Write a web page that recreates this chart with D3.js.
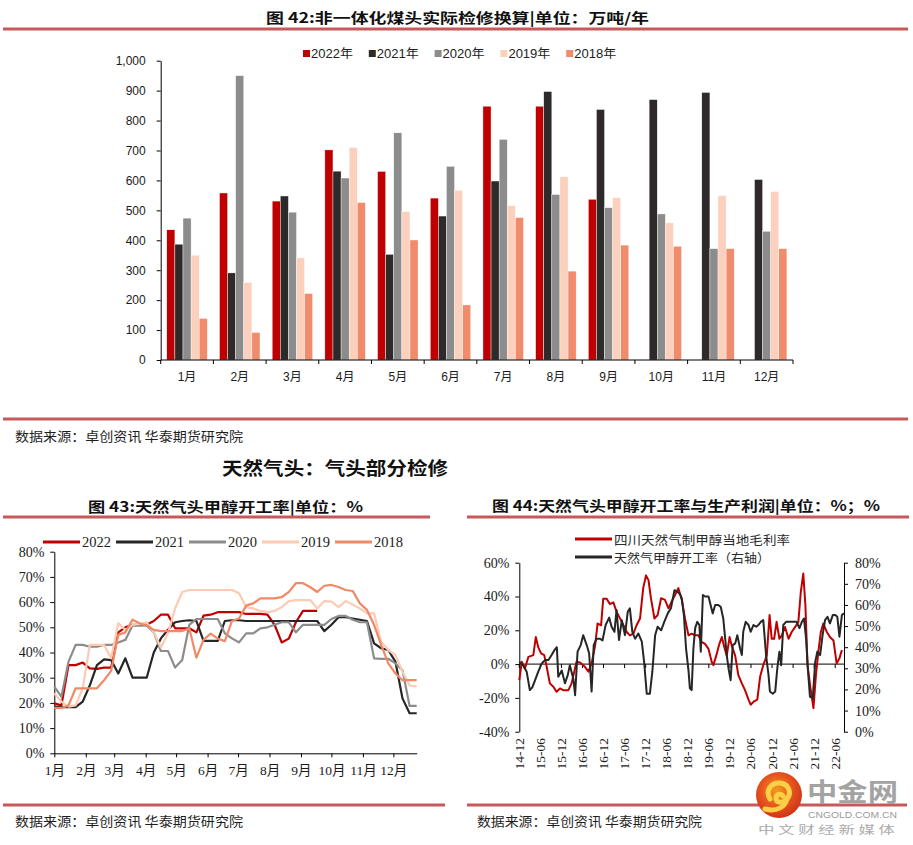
<!DOCTYPE html>
<html><head><meta charset="utf-8">
<script src="https://cdn.jsdelivr.net/npm/d3@7"></script>
<style>html,body{margin:0;padding:0;background:#fff;}svg{display:block;}</style>
</head><body>
<svg id="c" width="913" height="845"></svg>
<script>
// ================= DATA =================
// Fig 42 – bars (万吨/年)
const barMonths = ["1月","2月","3月","4月","5月","6月","7月","8月","9月","10月","11月","12月"];
const barSeries = ["2022年","2021年","2020年","2019年","2018年"];
const bar2022 = [435,558,531,702,630,541,848,848,537,null,null,null];
const bar2021 = [387,291,548,631,353,481,598,897,837,870,894,603];
const bar2020 = [474,950,494,608,759,647,737,553,509,488,372,430];
const bar2019 = [350,259,341,710,496,567,516,612,542,458,549,563];
const bar2018 = [139,92,222,526,401,184,476,297,384,380,372,372];
const barTicks = [0,100,200,300,400,500,600,700,800,900,1000];

// Fig 43 – weekly operating rate (%)
const rateMonths = ["1月","2月","3月","4月","5月","6月","7月","8月","9月","10月","11月","12月"];
const rateSeries = ["2022","2021","2020","2019","2018"];
const rate2022 = [19.8,19,35,35,36,33.7,33.5,34,34,48,50,51,51,51,52.5,55,55,49.6,49.6,49.6,48,54.6,55,56,56,56,56,55.3,55.3,55.3,55,51,44,45.5,52,56.5,56.5,56.5];
const rate2021 = [18.5,18.3,18.3,18.3,20.5,27,35,37.3,37,31.7,37.7,30,30,30,40,45.6,49,52,52.5,52.8,52.5,44.6,44.6,44.6,52.5,52.8,52.8,52.5,52.5,52.5,52.5,52.5,52.5,52.5,52.5,52.5,52.5,52.5,48.5,51,54,54,53.5,53,52.5,43.6,41.7,41,36.4,21.8,15.9,15.9];
const rate2020 = [26.5,22.5,36.4,43,43,42.3,42.3,43,43,44,45,50.7,50.7,50.7,48,40.6,40.6,34,37,51,53.3,53.3,53.3,53.3,47.6,45.6,44,47.6,47.6,49.6,50,51,52,52,48,51,51,51,51,53.3,54.5,54.5,53,52,52,37.7,37.5,37.5,35.7,33,18.8,18.8];
const rate2019 = [23.8,20.5,18.5,19,25.8,43,43,43,37.7,51.6,49,51,51.3,52,48,42,47.6,57.5,64,64.8,64.8,64.8,64.8,64.8,64.8,64.8,63.5,58,57.5,56.5,56,56.5,58,60.4,60.8,60.8,60.8,57.5,60.4,60.2,58,60.4,59,57.5,55.5,55.5,44.3,41,39,32.4,26.9,26.5];
const rate2018 = [18,18,19,25.8,25.8,25.8,25.8,29,32.7,47,48,53,51.6,50.7,49,48.5,48.5,48.5,48.5,49.5,38,45,47.5,45.5,44.5,52.5,53.5,58.6,59.5,61.5,61.5,61.5,62,64,67.5,67.5,66,64,66.5,66.8,66,64.8,64.4,59.5,56.9,51,43,35.7,31.7,29,29,29];
const rateTicks = [0,10,20,30,40,50,60,70,80];

// Fig 44 – margin (left axis) & operating rate (right axis); months since 2014-12
const profitTickLabels = ["14-12","15-06","15-12","16-06","16-12","17-06","17-12","18-06","18-12","19-06","19-12","20-06","20-12","21-06","21-12","22-06"];
const marginMonths = [0,0.7,1.6,2.6,4.0,4.7,5.4,6.2,7.1,7.8,8.7,9.7,10.6,11.6,12.5,14.0,14.9,16.3,17.3,18.7,19.7,20.6,21.6,22.3,23.3,23.9,24.9,25.8,26.8,27.7,29.2,30.6,31.5,32.5,33.4,34.4,35.3,36.1,36.8,37.5,38.5,39.4,40.4,41.5,42.5,43.4,44.4,45.3,46.3,47.2,48.2,49.1,50.1,51.0,52.0,52.9,53.9,54.8,55.3,56.1,57.0,57.7,58.4,59.1,59.9,60.5,61.5,62.4,63.4,64.3,65.3,65.9,66.9,67.8,68.6,69.5,70.5,71.3,71.9,72.6,73.3,74.1,74.8,75.7,76.7,77.6,78.6,79.5,80.2,80.9,81.5,82.1,82.8,83.8,84.5,85.2,85.9,86.6,87.6,88.5,89.5,90.4,91.2,91.9];
const marginValues = [-9.5,1.4,-2.6,4.3,5.3,16,10,6.3,5.3,-1.6,-11.4,-13.4,-16.4,-14.4,-15.4,-15.4,-11.4,1.4,1,-1.6,-4.5,0.4,11,24,23,38.6,38.6,35.5,36.5,31,25,19,17,18,23,27,45,52.5,49.7,39,27,29,39,38,33,37,41,45,38,27,17,18,17,17,13,12,9,1.4,-0.6,5,12,16,10,5,16,11,5,-6.5,-11.4,-15.4,-21,-24,-22,-21,-7.5,-0.6,5,29,15,15,25,15,17,22,15,19,22,25,42.8,53.6,35,-0.6,-12,-26,-6.5,7.3,19,24,19,16,14,0.4,3.4,8.3];
const opMonths = [0,1.1,2.1,3.0,3.7,4.5,5.4,6.4,7.3,8.3,9.2,10.0,10.7,11.1,12.1,13.0,13.8,14.4,15.4,15.9,16.6,17.5,18.2,19.2,19.9,20.6,21.2,22.0,23.0,23.7,24.6,25.6,26.3,27.1,27.7,28.4,29.2,30.1,30.9,31.5,32.2,33.0,33.9,34.9,35.6,36.3,37.2,37.9,38.7,39.4,40.4,41.3,42.3,43.2,44.2,45.1,45.8,46.3,46.9,47.5,48.2,48.6,49.1,49.6,50.1,50.7,51.3,51.7,52.3,52.9,53.9,54.5,55.1,55.8,56.7,57.4,58.1,58.6,59.1,59.6,60.2,60.8,61.5,62.1,62.9,63.4,63.8,64.5,65.3,65.9,66.7,67.5,68.1,68.8,69.5,70.3,71.0,71.4,72.2,72.9,73.5,74.1,74.6,75.2,76.0,77.1,78.1,79.0,79.8,80.5,81.1,81.7,82.2,82.8,83.6,84.3,84.9,85.7,86.4,87.1,87.8,88.5,89.3,90.0,90.6,91.2,91.9,92.5];
const opValues = [33,31.5,28.4,19.7,21,24.4,28.4,32.3,33.9,33.9,36.3,38.6,40,26,29,22.9,26.8,31.5,25,17.3,37.9,41,45.7,41,37,19,41,44,44,43.2,50.5,54,49.7,47.3,57.6,43.4,52.8,45.7,56.8,58.4,47.3,44,46.5,42.6,32.3,18,18,28.4,45.7,49.7,48,52,56,58.4,67,66.2,65,63,55,39.4,29,20.5,19.7,39.4,49,52,50.5,37.9,64.7,64,64,60,56,60,60,59,53.6,45,36.3,30,24.4,41,41.8,45.7,39.4,36.3,47.3,52,50.5,47.3,50.5,49.7,50.5,52,52.8,36.3,26.8,19,18,19,30,37.9,31.5,50.5,52,52,52,52,49,52,53.6,44,30,16.6,15.8,33,37.9,36.3,45.7,52.8,54.4,51.3,55.2,55.2,54.4,45,55.2,56];
const leftTicks = [-40,-20,0,20,40,60];
const rightTicks = [0,10,20,30,40,50,60,70,80];

// ================= DRAW =================
const svg = d3.select("#c");
svg.append("rect").attr("width",913).attr("height",845).attr("fill","#fff");
const CJK = "'Noto Sans CJK SC','Noto Sans',sans-serif";
const SANS = "'Liberation Sans','Noto Sans CJK SC',sans-serif";
const SERIF = "'Liberation Serif','Noto Sans CJK SC',serif";
const RULE = "#C65A5A";

function rule(x1,x2,y){
  svg.append("line").attr("x1",x1).attr("x2",x2).attr("y1",y).attr("y2",y)
    .attr("stroke",RULE).attr("stroke-width",3);
}
function label(x,y,s,o){
  const t = svg.append("text").attr("x",x).attr("y",y).text(s)
    .attr("font-family",o.family||CJK).attr("font-size",o.size||12)
    .attr("font-weight",o.weight||"normal").attr("fill",o.fill||"#1a1a1a")
    .attr("dominant-baseline","central").attr("text-anchor",o.anchor||"start");
  if(o.len){ t.attr("textLength",o.len).attr("lengthAdjust","spacingAndGlyphs"); }
  return t;
}
function styleAxis(g, family, size){
  g.select(".domain").attr("stroke","#000").attr("stroke-width",1);
  g.selectAll(".tick line").attr("stroke","#000");
  g.selectAll(".tick text").attr("font-family",family).attr("font-size",size).attr("fill","#1a1a1a");
}

// ---------- Figure 42 ----------
label(266,17,"图 42:非一体化煤头实际检修换算|单位：万吨/年",{weight:"bold",size:14,len:383,fill:"#111"});
rule(3,908,29);

const barColors = ["#C00000","#2E2A2A","#8C8C8C","#FBD0BC","#F08C6B"];
const barData = [bar2022,bar2021,bar2020,bar2019,bar2018];
const yB = d3.scaleLinear().domain([0,1000]).range([360,60.7]);
const x0 = d3.scaleBand().domain(barMonths).range([160.7,793]);
const x1 = d3.scaleBand().domain(barSeries).range([6.1,46.6]);

// legend
barSeries.forEach((s,i)=>{
  const lx = 303 + i*65.8;
  svg.append("rect").attr("x",lx).attr("y",50).attr("width",7).attr("height",7).attr("fill",barColors[i]);
  label(lx+8,53.5,s,{family:SANS,size:12,len:42,fill:"#222"});
});

barSeries.forEach((s,si)=>{
  const rows = barMonths.map((m,i)=>({m:m,v:barData[si][i]})).filter(d=>d.v!=null);
  svg.append("g").selectAll("rect").data(rows).join("rect")
    .attr("x",d=>x0(d.m)+x1(s)).attr("width",x1.bandwidth())
    .attr("y",d=>yB(d.v)).attr("height",d=>yB(0)-yB(d.v))
    .attr("fill",barColors[si]).attr("stroke","#fff").attr("stroke-width",0.4);
});
const gyB = svg.append("g").attr("transform","translate(160.7,0)")
  .call(d3.axisLeft(yB).tickValues(barTicks).tickSize(4).tickSizeOuter(0).tickPadding(11).tickFormat(d3.format(",")));
styleAxis(gyB,SANS,12);
// x axis of bars
const gxB = svg.append("g");
gxB.append("line").attr("x1",x0.range()[0]).attr("x2",x0.range()[1]).attr("y1",yB(0)).attr("y2",yB(0)).attr("stroke","#000");
const bounds = barMonths.map(m=>x0(m)).concat([x0.range()[1]]);
gxB.selectAll("line.t").data(bounds).join("line").attr("class","t")
  .attr("x1",d=>d).attr("x2",d=>d).attr("y1",yB(0)).attr("y2",yB(0)+4).attr("stroke","#000");
gxB.selectAll("text").data(barMonths).join("text")
  .attr("x",d=>x0(d)+x0.bandwidth()/2).attr("y",377).text(d=>d)
  .attr("text-anchor","middle").attr("dominant-baseline","central")
  .attr("font-family",SANS).attr("font-size",12).attr("fill","#1a1a1a");

rule(3,908,419);
label(15,435,"数据来源：卓创资讯  华泰期货研究院",{size:13,len:228,fill:"#1e1e1e"});
label(222,467,"天然气头：气头部分检修",{size:18,weight:"bold",len:226,fill:"#111"});

// ---------- Figure 43 ----------
label(88,505.5,"图 43:天然气头甲醇开工率|单位：%",{weight:"bold",size:14,len:275,fill:"#111"});
rule(3,430,517);

const rateColors = ["#C00000","#262626","#8C8C8C","#FBCBB3","#F08A66"];
const rateData = [rate2022,rate2021,rate2020,rate2019,rate2018];
const t0 = new Date(2021,0,1);
const xR = d3.scaleTime().domain([t0, d3.timeDay.offset(t0,357)]).range([54.3,416.7]);
const yR = d3.scaleLinear().domain([0,80]).range([753.3,551.7]);

rateSeries.forEach((s,i)=>{
  const lx = 43 + i*73;
  svg.append("line").attr("x1",lx).attr("x2",lx+37).attr("y1",542).attr("y2",542)
    .attr("stroke",rateColors[i]).attr("stroke-width",3.2);
  label(lx+39,542,s,{family:SERIF,size:14.5,fill:"#222"});
});

const gyR = svg.append("g").attr("transform","translate(54.3,0)")
  .call(d3.axisLeft(yR).tickValues(rateTicks).tickSize(4).tickSizeOuter(0).tickPadding(6).tickFormat(d=>d+"%"));
styleAxis(gyR,SERIF,14);
const monthStarts = d3.timeMonth.range(t0,new Date(2022,0,1));
const gxR = svg.append("g").attr("transform","translate(0,753.3)")
  .call(d3.axisBottom(xR).tickValues(monthStarts).tickSize(4).tickSizeOuter(0).tickPadding(8).tickFormat((d,i)=>rateMonths[i]));
styleAxis(gxR,SERIF,13.5);

const lineR = d3.line().defined(d=>d!=null)
  .x((d,i)=>xR(d3.timeDay.offset(t0,7*i))).y(d=>yR(d));
rateData.forEach((arr,i)=>{
  svg.append("path").attr("d",lineR(arr)).attr("fill","none")
    .attr("stroke",rateColors[i]).attr("stroke-width",2.2).attr("stroke-linejoin","round");
});

rule(3,445,805);
label(15,820,"数据来源：卓创资讯  华泰期货研究院",{size:13,len:228,fill:"#1e1e1e"});

// ---------- Figure 44 ----------
label(492,505,"图 44:天然气头甲醇开工率与生产利润|单位：%；%",{weight:"bold",size:14,len:388,fill:"#111"});
rule(467,909,517);

const xP = d3.scaleLinear().domain([0,92.5]).range([519.3,844]);
const yPL = d3.scaleLinear().domain([-40,60]).range([731.7,562.7]);
const yPR = d3.scaleLinear().domain([0,80]).range([731.7,562.7]);

svg.append("line").attr("x1",575).attr("x2",612).attr("y1",539).attr("y2",539).attr("stroke","#C00000").attr("stroke-width",3.2);
label(614,539,"四川天然气制甲醇当地毛利率",{size:12.5,len:176,fill:"#2a2a2a"});
svg.append("line").attr("x1",575).attr("x2",612).attr("y1",557).attr("y2",557).attr("stroke","#262626").attr("stroke-width",3.2);
label(614,557,"天然气甲醇开工率（右轴）",{size:12.5,len:156,fill:"#2a2a2a"});

const gyPL = svg.append("g").attr("transform","translate(519.3,0)")
  .call(d3.axisLeft(yPL).tickValues(leftTicks).tickSize(4).tickSizeOuter(0).tickPadding(6).tickFormat(d=>d+"%"));
styleAxis(gyPL,SERIF,14);
const gyPR = svg.append("g").attr("transform","translate(844,0)")
  .call(d3.axisRight(yPR).tickValues(rightTicks).tickSize(4).tickSizeOuter(0).tickPadding(7).tickFormat(d=>d+"%"));
styleAxis(gyPR,SERIF,14);

const tickMonths = profitTickLabels.map((s,i)=>i*6);
const gxP = svg.append("g");
gxP.append("line").attr("x1",xP(0)).attr("x2",xP.range()[1]).attr("y1",yPL(0)).attr("y2",yPL(0)).attr("stroke","#000");
gxP.selectAll("line.t").data(tickMonths).join("line").attr("class","t")
  .attr("x1",d=>xP(d)).attr("x2",d=>xP(d)).attr("y1",yPL(0)).attr("y2",yPL(0)+4).attr("stroke","#000");
gxP.selectAll("text").data(profitTickLabels).join("text")
  .attr("transform",(d,i)=>`translate(${xP(tickMonths[i])},738) rotate(-90)`)
  .text(d=>d).attr("text-anchor","end").attr("dominant-baseline","central")
  .attr("font-family",SERIF).attr("font-size",13.5).attr("fill","#1a1a1a");

const margin = marginMonths.map((m,i)=>[m,marginValues[i]]);
const op = opMonths.map((m,i)=>[m,opValues[i]]);
svg.append("path").attr("d",d3.line().x(d=>xP(d[0])).y(d=>yPL(d[1]))(margin))
  .attr("fill","none").attr("stroke","#C00000").attr("stroke-width",2).attr("stroke-linejoin","round");
svg.append("path").attr("d",d3.line().x(d=>xP(d[0])).y(d=>yPR(d[1]))(op))
  .attr("fill","none").attr("stroke","#262626").attr("stroke-width",2).attr("stroke-linejoin","round");

rule(467,907,805);
label(477,820,"数据来源：卓创资讯  华泰期货研究院",{size:13,len:225,fill:"#1e1e1e"});

// ---------- watermark ----------
const defs = svg.append("defs");
const rg = defs.append("radialGradient").attr("id","lg").attr("cx","45%").attr("cy","40%").attr("r","60%");
rg.append("stop").attr("offset","0%").attr("stop-color","#F39A1E");
rg.append("stop").attr("offset","60%").attr("stop-color","#E5521E");
rg.append("stop").attr("offset","100%").attr("stop-color","#CF3517");
const logo = svg.append("g").attr("transform","translate(779,795)");
logo.append("circle").attr("r",23).attr("fill","url(#lg)");
logo.append("path").attr("d","M-9,4 C-14,-4 -8,-13 1,-12 C10,-11 13,-2 8,4 C4,9 -3,8 -3,3 C-3,-1 2,-2 4,1")
  .attr("fill","none").attr("stroke","#FBD046").attr("stroke-width",5).attr("stroke-linecap","round");
logo.append("path").attr("d","M8,4 C6,12 -2,17 -14,14")
  .attr("fill","none").attr("stroke","#FBD046").attr("stroke-width",5).attr("stroke-linecap","round");
label(807,790,"中金网",{size:25,weight:"bold",len:91,fill:"#A3A3A3"});
label(808,815,"CNGOLD.COM.CN",{family:SANS,size:8.5,len:89,fill:"#9a9a9a"});
label(758,829,"中 文 财 经 新 媒 体",{size:11,len:137,fill:"#ababab"});
</script>
</body></html>
